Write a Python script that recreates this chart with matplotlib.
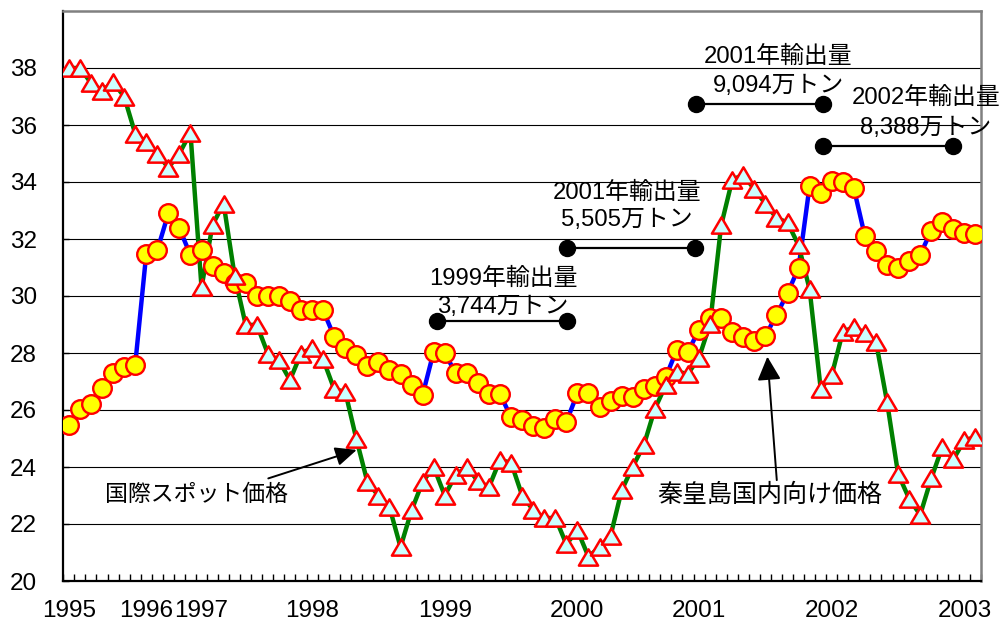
import numpy as np
import matplotlib
matplotlib.use("Agg")
import matplotlib.pyplot as plt
import matplotlib.path as mpath
from matplotlib.ticker import FixedLocator

plt.rcParams['font.family'] = ['Liberation Sans', 'Noto Sans CJK JP', 'DejaVu Sans']

# ---- data ----
domestic_price = [25.47, 26.02, 26.2, 26.76, 27.31, 27.52, 27.58, 31.47, 31.6, 32.9,
                  32.37, 31.44, 31.6, 31.06, 30.82, 30.46, 30.46, 30.0, 30.0, 30.0,
                  29.81, 29.5, 29.5, 29.5, 28.57, 28.16, 27.93, 27.55, 27.7, 27.4,
                  27.26, 26.88, 26.53, 28.05, 27.99, 27.29, 27.31, 26.96, 26.56, 26.56,
                  25.74, 25.65, 25.44, 25.36, 25.67, 25.59, 26.58, 26.58, 26.12, 26.33,
                  26.49, 26.44, 26.73, 26.84, 27.17, 28.12, 28.05, 28.81, 29.22, 29.22,
                  28.75, 28.55, 28.43, 28.6, 29.33, 30.1, 30.98, 33.87, 33.61, 34.03,
                  33.99, 33.78, 32.1, 31.57, 31.09, 30.98, 31.22, 31.45, 32.29, 32.59,
                  32.35, 32.21, 32.16]
spot_price = [38.0, 38.0, 37.48, 37.2, 37.5, 37.0, 35.7, 35.4, 35.0, 34.5,
              35.0, 35.73, 30.3, 32.5, 33.24, 30.7, 28.98, 28.99, 27.98, 27.74,
              27.05, 27.98, 28.18, 27.78, 26.73, 26.64, 24.99, 23.48, 22.99, 22.59,
              21.19, 22.48, 23.48, 24.0, 23.0, 23.73, 24.0, 23.5, 23.3, 24.25,
              24.15, 23.0, 22.49, 22.2, 22.22, 21.29, 21.78, 20.85, 21.19, 21.59,
              23.18, 24.01, 24.76, 26.04, 26.88, 27.34, 27.27, 27.84, 29.03, 32.48,
              34.07, 34.26, 33.74, 33.24, 32.74, 32.58, 31.78, 30.23, 26.75, 27.22,
              28.74, 28.91, 28.71, 28.4, 26.29, 23.76, 22.89, 22.32, 23.6, 24.7,
              24.27, 24.94, 25.05]
year_labels = ['1995', '1996', '1997', '1998', '1999', '2000', '2001', '2002', '2003']
year_label_idx = [0, 7, 12, 22, 34, 46, 57, 69, 81]
y_ticks = [20, 22, 24, 26, 28, 30, 32, 34, 36, 38]

# export-volume annotations
export_titles = ['1999年輸出量', '2001年輸出量', '2001年輸出量', '2002年輸出量']
export_amounts = ['3,744万トン', '5,505万トン', '9,094万トン', '8,388万トン']
export_x0 = [33.28, 45.03, 56.73, 68.24]
export_x1 = [45.06, 56.65, 68.24, 80.0]
export_level = [29.13, 31.70, 36.74, 35.26]
export_text_x = [39.27, 50.5, 64.14, 77.53]
export_title_y = [30.62, 33.61, 38.40, 36.94]
export_amount_y = [29.60, 32.67, 37.37, 35.88]

series_labels = ['国際スポット価格', '秦皇島国内向け価格']

# ---- figure ----
fig = plt.figure(figsize=(10.02, 6.25), dpi=100)
ax = fig.add_axes([63.3 / 1002, 1 - 581 / 625, (981 - 63.3) / 1002, (581 - 11) / 625])

x = np.arange(len(domestic_price))

ax.plot(x, domestic_price, color='#0000FF', lw=3.2, zorder=2, solid_joinstyle='round')
ax.plot(x, spot_price, color='#008000', lw=3.2, zorder=2, solid_joinstyle='round')
ax.plot(x, domestic_price, ls='none', marker='o', ms=13.4, mfc='#FFFF00', mec='#FF0000',
        mew=1.7, zorder=3)
tri = mpath.Path([(0, 0.85), (-1, -0.85), (1, -0.85), (0, 0.85)], closed=True)
ax.plot(x, spot_price, ls='none', marker=tri, ms=13.8, mfc='#CCFFFF', mec='#FF0000',
        mew=1.8, zorder=4)

ax.set_xlim(-0.5, len(domestic_price) - 0.5)
ax.set_ylim(20, 40)

ax.set_yticks(y_ticks)
ax.set_yticklabels([str(v) for v in y_ticks])
for v in y_ticks[1:]:
    ax.axhline(v, color='black', lw=0.8, zorder=1)

ax.set_xticks(year_label_idx)
ax.set_xticklabels(year_labels)
ax.xaxis.set_minor_locator(FixedLocator(np.arange(-0.5, len(domestic_price), 1.0)))
ax.tick_params(axis='x', which='major', length=0, pad=14, labelsize=17.5)
ax.tick_params(axis='x', which='minor', direction='in', length=5, width=1, color='black')
ax.tick_params(axis='y', which='major', direction='in', length=4, width=1, pad=19, labelsize=17.5)

for side in ['left', 'bottom']:
    ax.spines[side].set_color('black')
    ax.spines[side].set_linewidth(1.6)
for side in ['top', 'right']:
    ax.spines[side].set_color('#808080')
    ax.spines[side].set_linewidth(1.8)

# export annotations
for t, a, x0, x1, lv, tx, ty1, ty2 in zip(export_titles, export_amounts, export_x0, export_x1,
                                         export_level, export_text_x, export_title_y, export_amount_y):
    ax.plot([x0, x1], [lv, lv], color='black', lw=1.6, marker='o', ms=11.5, zorder=5,
            clip_on=False)
    ax.text(tx, ty1, t, ha='center', va='center', fontsize=17.2, zorder=6, clip_on=False)
    ax.text(tx, ty2, a, ha='center', va='center', fontsize=17.2, zorder=6, clip_on=False)

# series labels with arrows
ax.text(11.57, 23.02, series_labels[0], ha='center', va='center', fontsize=16.5, zorder=6)
ax.annotate('', xy=(26.04, 24.6), xytext=(18.04, 23.6),
            arrowprops=dict(arrowstyle='-|>,head_length=0.65,head_width=0.29', mutation_scale=20,
                            color='black', lw=1.4, shrinkA=0, shrinkB=0), zorder=6)
ax.text(63.42, 23.02, series_labels[1], ha='center', va='center', fontsize=18, zorder=6)
ax.annotate('', xy=(63.18, 27.87), xytext=(64.03, 23.54),
            arrowprops=dict(arrowstyle='-|>,head_length=0.72,head_width=0.36', mutation_scale=20,
                            color='black', lw=1.4, shrinkA=0, shrinkB=0), zorder=6)

fig.savefig('out.png', dpi=100)
